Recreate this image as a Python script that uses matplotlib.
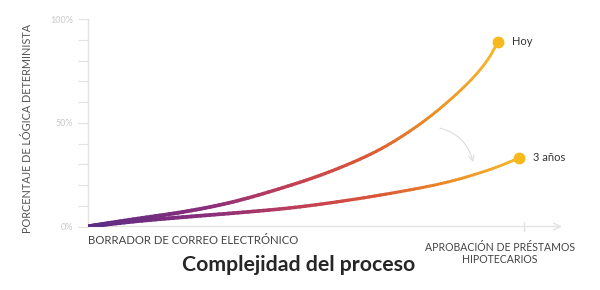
import numpy as np
import matplotlib
matplotlib.use("Agg")
import matplotlib.pyplot as plt
from matplotlib.collections import LineCollection
from matplotlib.colors import LinearSegmentedColormap
from matplotlib.path import Path

plt.rcParams["font.family"] = ["Lato", "DejaVu Sans"]

# complejidad (0 = borrador de correo, 100 = aprobación de préstamos)
complejidad_hoy = [0, 10.8, 22.2, 33.7, 46.8, 55.5, 64.7, 71.6, 79.1, 86.9, 91.5, 94.0]
logica_hoy = [0, 3.6, 7.0, 11.8, 20.0, 26.3, 34.5, 42.7, 53.8, 68.3, 79.4, 89.0]

complejidad_3 = [0, 10.8, 22.2, 33.7, 46.8, 60.1, 73.9, 83.0, 92.2, 98.9]
logica_3 = [0, 2.6, 4.6, 6.5, 8.9, 12.7, 17.6, 21.5, 27.3, 33.0]

etiquetas = ["Hoy", "3 años"]
yticks = [0, 10, 20, 30, 40, 50, 60, 70, 80, 90, 100]
ytick_labels = {0: "0%", 50: "50%", 100: "100%"}

cmap = LinearSegmentedColormap.from_list("grad", [
    (0.0, "#5a2c84"), (0.3, "#8d2f7a"), (0.5, "#c23f55"),
    (0.68, "#dc5736"), (0.83, "#ec8a28"), (1.0, "#f5b927")])
DOT = "#f6b81c"
GRID = "#e3e3e3"


def smooth_vertices(xs, ys):
    # curva suave (bezier cuadrática por los puntos medios), aplanada por matplotlib
    pts = np.column_stack([xs, ys]).astype(float)
    verts = [pts[0], (pts[0] + pts[1]) / 2]
    codes = [Path.MOVETO, Path.LINETO]
    for i in range(1, len(pts) - 1):
        verts += [pts[i], (pts[i] + pts[i + 1]) / 2]
        codes += [Path.CURVE3, Path.CURVE3]
    verts.append(pts[-1])
    codes.append(Path.LINETO)
    path = Path(verts, codes)
    out = []
    for seg, code in path.iter_bezier():
        for t in np.linspace(0, 1, 12):
            out.append(seg.point_at_t(t))
    return np.array(out)


def gradient_line(ax, xs, ys, lw0=3.0, lw1=1.9):
    v = smooth_vertices(xs, ys)
    segs = np.stack([v[:-1], v[1:]], axis=1)
    f = (v[:-1, 0] + v[1:, 0]) / 2 / v[-1, 0]
    lc = LineCollection(segs, colors=cmap(f), linewidths=lw0 + (lw1 - lw0) * f,
                        capstyle="round", joinstyle="round", zorder=3)
    ax.add_collection(lc)


fig = plt.figure(figsize=(6, 2.9), dpi=100)
W, H = 600, 290
px_per_unit = 4.36
ax_w = 480
ax = fig.add_axes([88 / W, (290 - 226.5) / H, ax_w / W, 207.2 / H])
ax.set_xlim(0, ax_w / px_per_unit)
ax.set_ylim(0, 100)

for s in ["top", "right", "bottom"]:
    ax.spines[s].set_visible(False)
ax.spines["left"].set_color(GRID)
ax.spines["left"].set_linewidth(1.0)

ax.set_yticks(yticks)
ax.set_yticklabels([ytick_labels.get(v, "") for v in yticks])
ax.tick_params(axis="y", direction="out", length=7.5, width=0.8, color=GRID,
               labelsize=6.5, labelcolor="#c8c8c8", pad=3)
ax.set_xticks([])

# eje x con flecha
ax.annotate("", xy=(108.7, 0), xytext=(0, 0), xycoords="data",
            arrowprops=dict(arrowstyle="->", color=GRID, lw=1.0,
                            mutation_scale=12, shrinkA=0, shrinkB=0),
            annotation_clip=False, zorder=1)
ax.plot([100, 100], [-2.4, 2.4], color=GRID, lw=1.0, clip_on=False, zorder=1)

gradient_line(ax, complejidad_hoy, logica_hoy)
gradient_line(ax, complejidad_3, logica_3)

for xs, ys, lab in [(complejidad_hoy, logica_hoy, etiquetas[0]),
                    (complejidad_3, logica_3, etiquetas[1])]:
    ax.plot(xs[-1], ys[-1], "o", color=DOT, ms=7.5, zorder=4, clip_on=False)
    ax.annotate(lab, (xs[-1], ys[-1]), xytext=(10, 0.5), textcoords="offset points",
                va="center", ha="left", fontsize=8, color="#333333")

# flecha curva gris
ax.annotate("", xy=(88.3, 31.1), xytext=(80.7, 47.5),
            arrowprops=dict(arrowstyle="->", color="#dcdcdc", lw=0.8,
                            connectionstyle="arc3,rad=-0.3", shrinkA=0, shrinkB=0))

fig.text(28 / W, 1 - 128 / H, "PORCENTAJE DE LÓGICA DETERMINISTA", rotation=90,
         ha="center", va="center", fontsize=7.8, color="#555555")
fig.text(88 / W, 1 - 241 / H, "BORRADOR DE CORREO ELECTRÓNICO", ha="left",
         va="center", fontsize=8.2, color="#444444")
fig.text(500 / W, 1 - 253.5 / H, "APROBACIÓN DE PRÉSTAMOS\nHIPOTECARIOS", ha="center",
         va="center", fontsize=7.6, color="#444444", linespacing=1.2)
fig.text(299 / W, 1 - 265 / H, "Complejidad del proceso", ha="center", va="center",
         fontsize=15.3, color="#262626", fontweight="bold")

fig.savefig("out.png", dpi=100, facecolor="white")
